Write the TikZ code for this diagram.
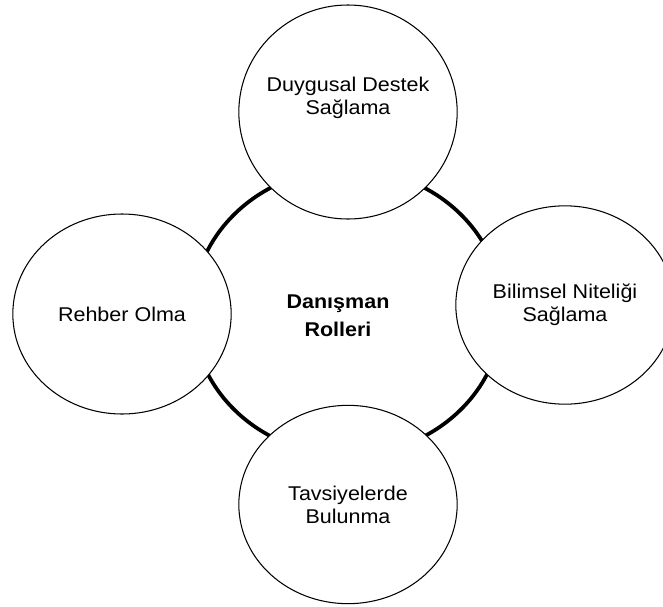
\documentclass[tikz,border=0pt]{standalone}
\usepackage{fontspec}
\setmainfont{Liberation Sans}[FakeStretch=1.08]
\usetikzlibrary{shapes.geometric}

\begin{document}
\begin{tikzpicture}[x=0.03cm, y=-0.03cm,
  rol/.style={ellipse, draw, line width=0.9pt, fill=white, inner sep=0pt, outer sep=0pt,
    minimum width=6.55cm, minimum height=5.95cm, align=center, font=\fontsize{17}{19.6}\selectfont},
  merkez/.style={ellipse, draw, line width=3.2pt, inner sep=0pt, minimum width=9.3cm, minimum height=8.58cm},
  merkezyazi/.style={align=center, font=\fontsize{17}{24}\selectfont\bfseries}]
                \useasboundingbox (0,0) rectangle (663,606);
                \node[merkez] (danisman) at (347.5,312) {};
                \node[merkezyazi] (rolleri) at (338,316) {Danışman\\Rolleri};

                \node[rol, minimum height=6.42cm,
                  label={[align=center, font=\fontsize{17}{19.6}\selectfont, yshift=12pt]center:{Duygusal Destek\\Sağlama}}]
                  (duygusal) at (348,112) {};
                \node[rol, minimum height=6cm] (rehber) at (122,314) {Rehber Olma};
                \node[rol] (bilimsel) at (565,305) {Bilimsel Niteliği\\Sağlama};
                \node[rol] (tavsiye) at (348,504.5) {Tavsiyelerde\\Bulunma};
            \end{tikzpicture}
\end{document}
